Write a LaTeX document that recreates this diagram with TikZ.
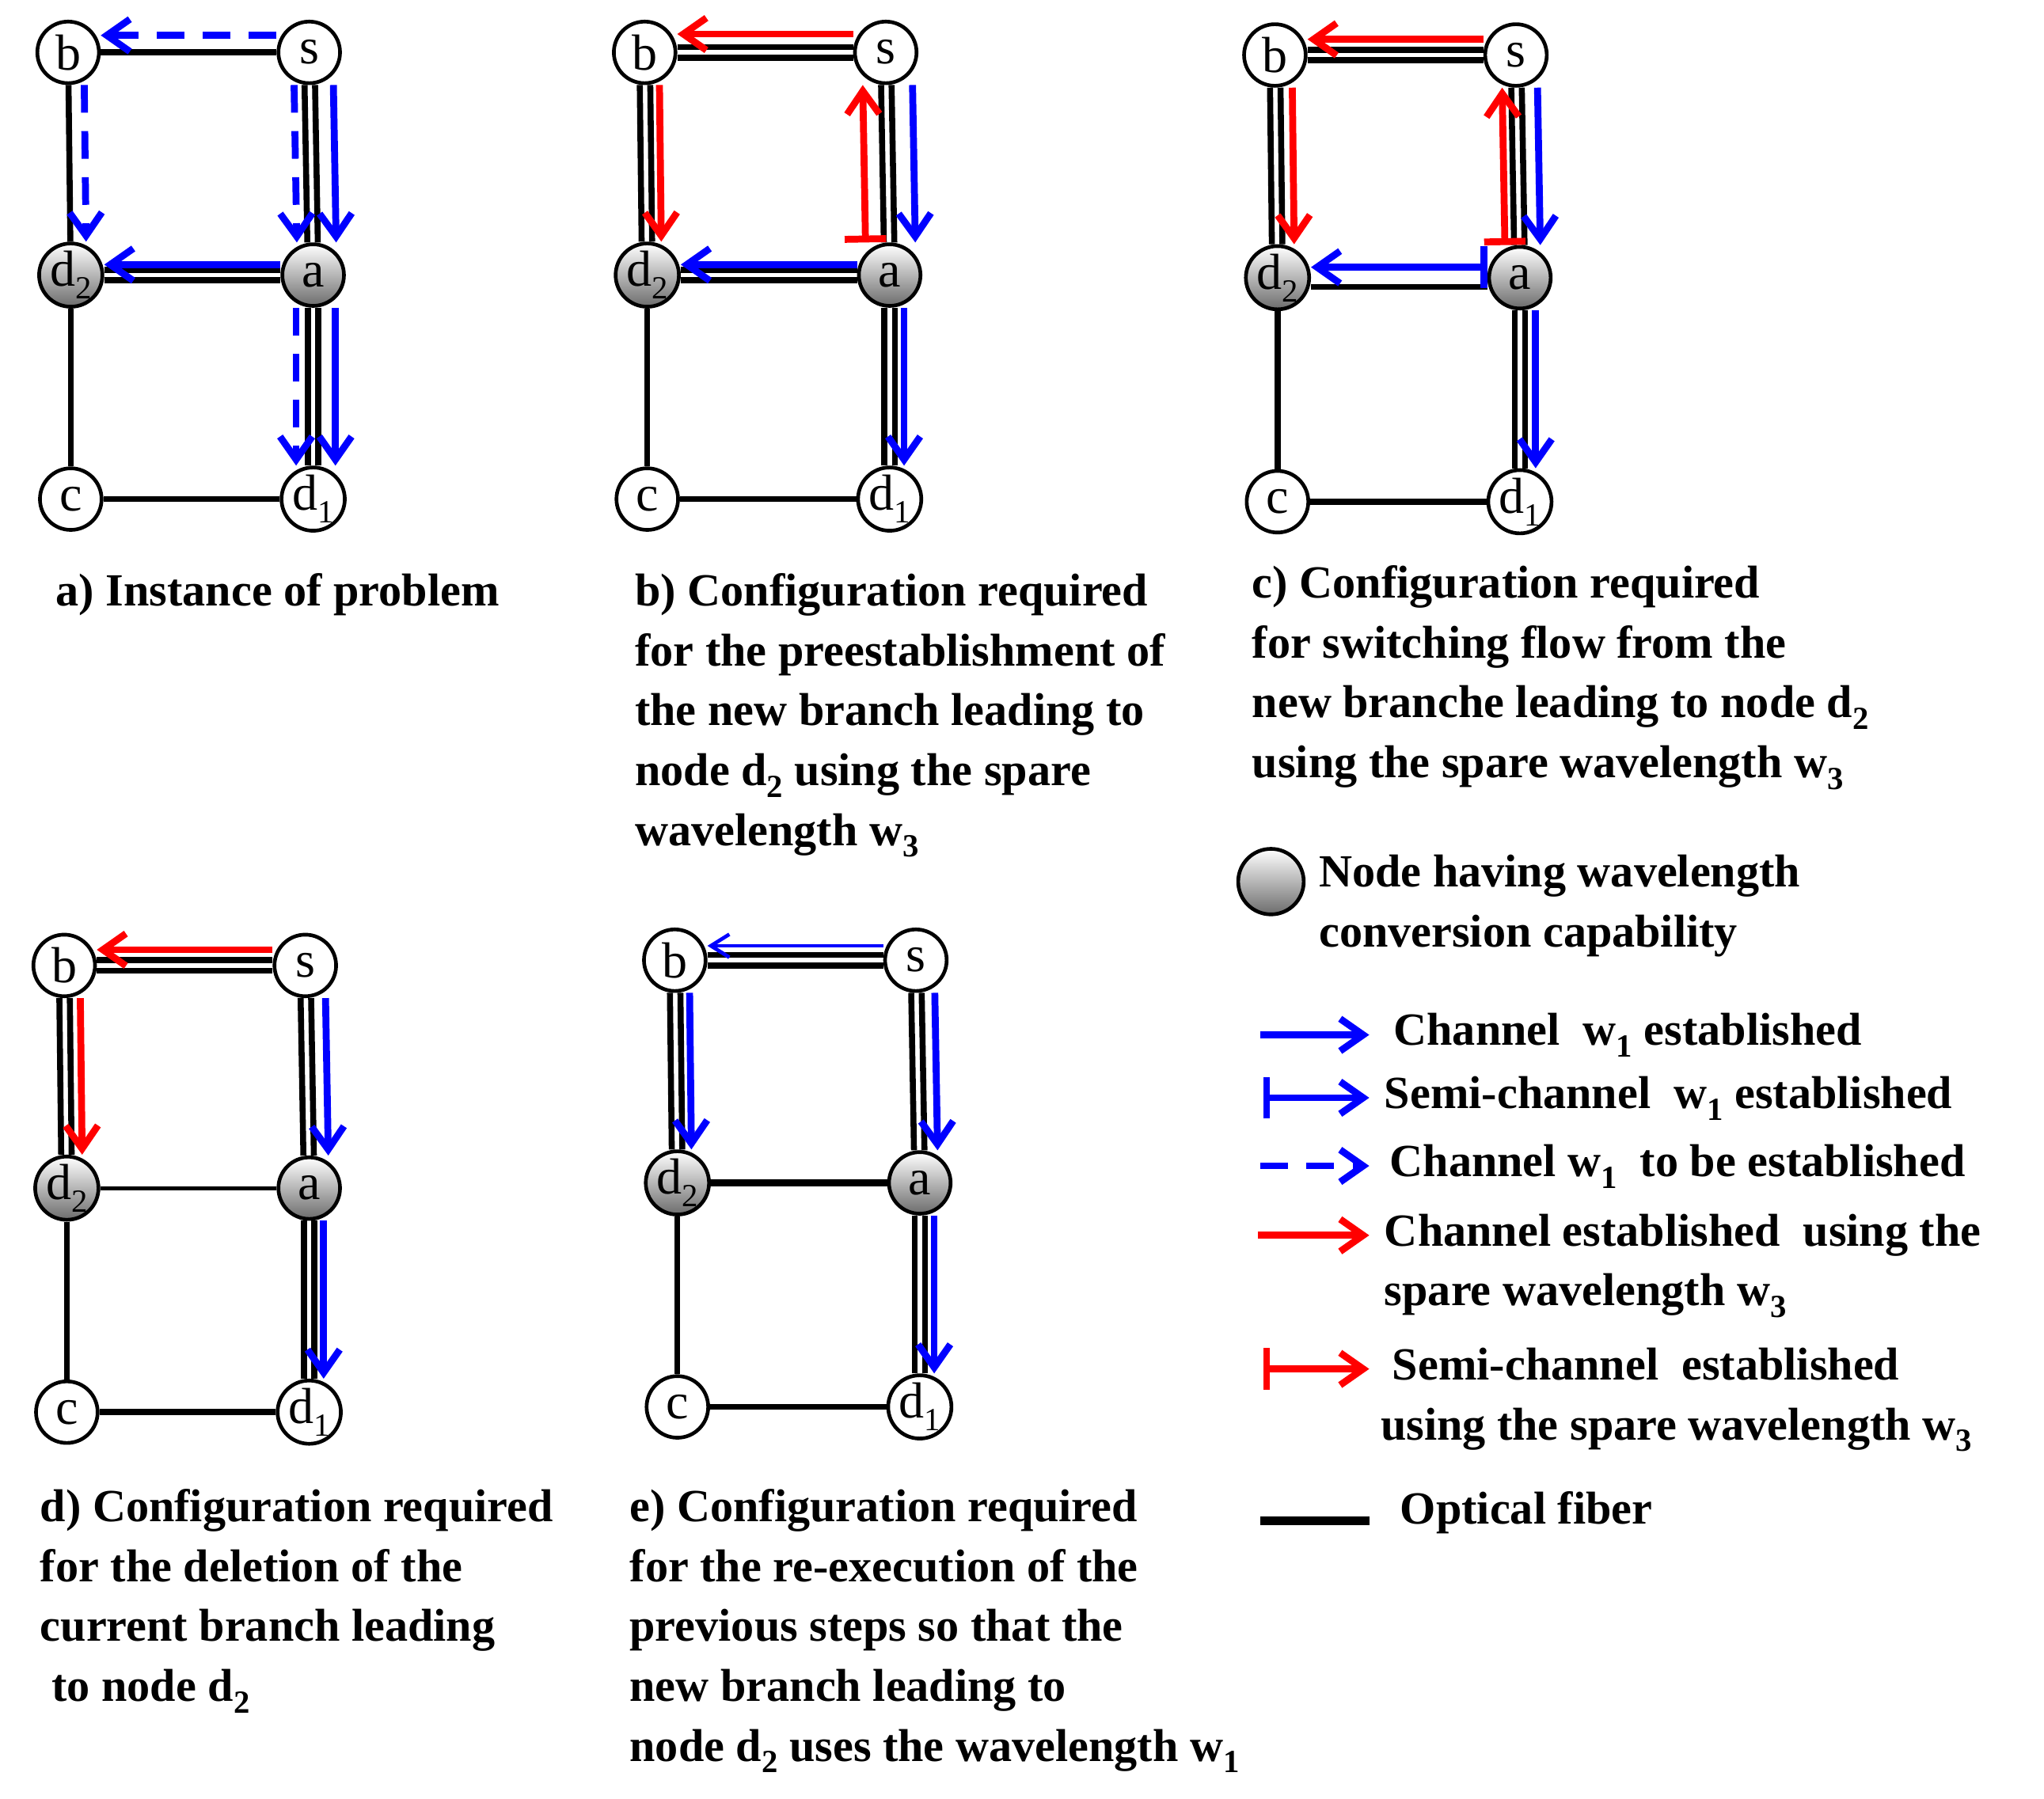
\documentclass[tikz,border=0pt]{standalone}
\usepackage{fontspec}
\setmainfont{Liberation Serif}
\usetikzlibrary{arrows.meta}
\newcommand{\lsub}[1]{\raisebox{-0.55ex}{\scriptsize #1}}
\begin{document}
\begin{tikzpicture}[x=0.01cm,y=-0.01cm,
  nd/.style={circle,draw=black,thick,fill=white,minimum size=0.47cm,inner sep=0pt,font=\fontsize{11}{11}\selectfont},
  cv/.style={nd,left color=white,right color=gray!85!black,shading angle=0},
  fib/.style={line width=1.3pt,black},
  thin fib/.style={line width=0.8pt,black},
  bl/.style={line width=1.5pt,blue,-{Straight Barb[length=5pt,width=7pt]}},
  bld/.style={bl,dash pattern=on 6pt off 4pt},
  rd/.style={line width=1.5pt,red,-{Straight Barb[length=5pt,width=7pt]}},
  bsemi/.style={line width=1.5pt,blue,{Bar[width=9pt]}-{Straight Barb[length=5pt,width=7pt]}},
  rsemi/.style={line width=1.5pt,red,{Bar[width=9pt]}-{Straight Barb[length=5pt,width=7pt]}},
  txt/.style={anchor=north west,align=left,font=\fontsize{10}{13}\selectfont\bfseries,inner sep=0pt},
  sh/.style={transform canvas={xshift=#1*0.01cm}},
  vs/.style={transform canvas={yshift=#1*0.01cm}}
]
\useasboundingbox (0,0) rectangle (1560,1373);
\newcommand{\panel}[3]{%
 \begin{scope}[shift={(#1,#2)}]
 \coordinate (#3b) at (2,0); \coordinate (#3s) at (186,0);
 \coordinate (#3d) at (4,170); \coordinate (#3a) at (189,170);
 \coordinate (#3c) at (4,341); \coordinate (#3e) at (189,341);
 \end{scope}}
\newcommand{\nodes}[1]{%
 \node[nd] (#1B) at (#1b) {b}; \node[nd] (#1S) at (#1s) {s};
 \node[cv] (#1D) at (#1d) {d\lsub{2}}; \node[cv] (#1A) at (#1a) {a};
 \node[nd] (#1C) at (#1c) {c}; \node[nd] (#1E) at (#1e) {d\lsub{1}};}
\newcommand{\dbl}[2]{\draw[fib,sh=-4] (#1)--(#2); \draw[fib,sh=4] (#1)--(#2);}
\newcommand{\dblh}[2]{\draw[fib,vs=4] (#1)--(#2); \draw[fib,vs=-4] (#1)--(#2);}
\panel{50}{40}{p}\panel{490}{40}{q}\panel{971}{42}{r}\panel{47}{737}{t}\panel{513}{733}{u}
\foreach \p in {p,q,r,t,u}{\nodes{\p}}
% panel a
\draw[fib] (pB)--(pS); \draw[fib] (pB)--(pD); \dbl{pS}{pA} \dblh{pD}{pA} \dbl{pA}{pE}
\draw[fib] (pD)--(pC); \draw[fib] (pC)--(pE);
\draw[bld,vs=13] (pS)--(pB); \draw[bld,sh=12] (pB)--(pD);
\draw[bld,sh=-12] (pS)--(pA); \draw[bl,sh=18] (pS)--(pA);
\draw[bl,vs=8] (pA)--(pD);
\draw[bld,sh=-13] (pA)--(pE); \draw[bl,sh=17] (pA)--(pE);
% panel b
\dblh{qB}{qS} \dbl{qB}{qD} \dbl{qS}{qA} \dblh{qD}{qA} \dbl{qA}{qE}
\draw[fib] (qD)--(qC); \draw[fib] (qC)--(qE);
\draw[rd,vs=14] (qS)--(qB); \draw[rd,sh=11] (qB)--(qD);
\draw[rsemi,sh=-18] (qA)--(qS); \draw[bl,sh=20] (qS)--(qA);
\draw[bl,vs=8] (qA)--(qD); \draw[bl,sh=11] (qA)--(qE);
% panel c
\dblh{rB}{rS} \dbl{rB}{rD} \dbl{rS}{rA} \draw[fib,vs=-7] (rD)--(rA); \dbl{rA}{rE}
\draw[fib] (rD)--(rC); \draw[fib] (rC)--(rE);
\draw[rd,vs=12] (rS)--(rB); \draw[rd,sh=13] (rB)--(rD);
\draw[rsemi,sh=-11] (rA)--(rS); \draw[bl,sh=16] (rS)--(rA);
\draw[bsemi,vs=8] (rA)--(rD); \draw[bl,sh=12] (rA)--(rE);
% panel d
\dblh{tB}{tS} \dbl{tB}{tD} \dbl{tS}{tA} \draw[thin fib] (tD)--(tA); \dbl{tA}{tE}
\draw[fib] (tD)--(tC); \draw[fib] (tC)--(tE);
\draw[rd,vs=12] (tS)--(tB); \draw[rd,sh=12] (tB)--(tD);
\draw[bl,sh=15] (tS)--(tA); \draw[bl,sh=11] (tA)--(tE);
% panel e
\dblh{uB}{uS} \dbl{uB}{uD} \dbl{uS}{uA} \draw[fib,line width=1.6pt] (uD)--(uA); \dbl{uA}{uE}
\draw[fib] (uD)--(uC); \draw[fib] (uC)--(uE);
\draw[line width=0.8pt,blue,-{Straight Barb[length=4pt,width=5pt]},vs=11] (uS)--(uB);
\draw[bl,sh=11] (uB)--(uD); \draw[bl,sh=14] (uS)--(uA); \draw[bl,sh=11] (uA)--(uE);
% captions
\node[txt] at (42,437) {a) Instance of problem};
\node[txt] at (484,437) {b) Configuration required\\for the preestablishment of\\the new branch leading to\\node d\lsub{2} using the spare\\wavelength w\lsub{3}};
\node[txt] at (955,431) {c) Configuration required\\for switching flow from the\\new branche leading to node d\lsub{2}\\using the spare wavelength w\lsub{3}};
\node[txt] at (30,1136) {d) Configuration required\\for the deletion of the\\current branch leading\\\ to node d\lsub{2}};
\node[txt] at (480,1136) {e) Configuration required\\for the re-execution of the\\previous steps so that the\\new branch leading to\\node d\lsub{2} uses the wavelength w\lsub{1}};
% legend
\node[cv,minimum size=0.5cm] (lg) at (970,673) {};
\node[txt] at (1006,652) {Node having wavelength\\conversion capability};
\coordinate (l1a) at (962,790); \coordinate (l1b) at (1045,790);
\coordinate (l2a) at (964,838); \coordinate (l2b) at (1045,838);
\coordinate (l3a) at (962,890); \coordinate (l3b) at (1045,890);
\coordinate (l4a) at (960,943); \coordinate (l4b) at (1045,943);
\coordinate (l5a) at (964,1045); \coordinate (l5b) at (1045,1045);
\coordinate (l6a) at (962,1161); \coordinate (l6b) at (1045,1161);
\draw[bl] (l1a)--(l1b); \draw[bsemi] (l2a)--(l2b); \draw[bld] (l3a)--(l3b);
\draw[rd] (l4a)--(l4b); \draw[rsemi] (l5a)--(l5b); \draw[fib,line width=1.8pt] (l6a)--(l6b);
\node[txt] at (1063,773) {Channel\ \ w\lsub{1} established};
\node[txt] at (1056,821) {Semi-channel\ \ w\lsub{1} established};
\node[txt] at (1060,873) {Channel w\lsub{1}\ \ to be established};
\node[txt] at (1056,926) {Channel established\ \ using the\\spare wavelength w\lsub{3}};
\node[txt] at (1062,1028) {Semi-channel\ \ established};
\node[txt] at (1053,1074) {using the spare wavelength w\lsub{3}};
\node[txt] at (1068,1138) {Optical fiber};
\end{tikzpicture}
\end{document}
